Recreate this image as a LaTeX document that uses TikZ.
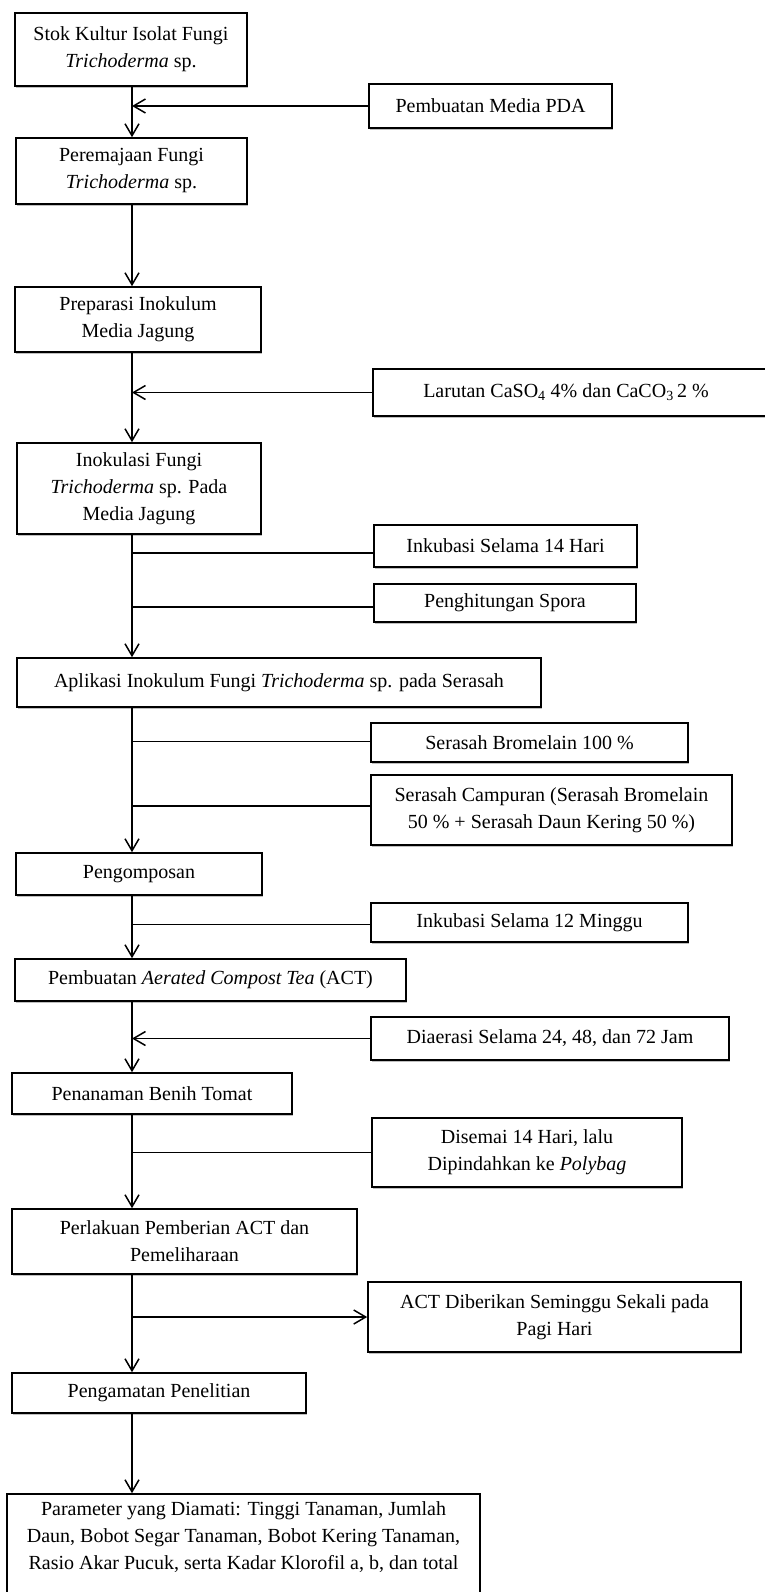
\documentclass[tikz,border=0pt]{standalone}
\usepackage{fontspec}
\setmainfont{Liberation Serif}
\usetikzlibrary{arrows.meta,shadows}
\begin{document}
\begin{tikzpicture}[x=1pt,y=-1pt,
  box/.style={draw=black, line width=1.6pt, fill=white, inner sep=0pt, align=center,
    font=\fontsize{20}{27}\selectfont,
    drop shadow={shadow xshift=1.2pt, shadow yshift=-2.2pt, opacity=0.25, fill=black}},
  flow/.style={line width=1.5pt, -{Straight Barb[length=12pt,width=14pt]}},
  feed/.style={line width=1.5pt},
]
\useasboundingbox (0,0) rectangle (765,1592);
\fill[white] (0,0) rectangle (765,1592);
\coordinate (spine) at (132,0);

\node[box, minimum width=232pt, minimum height=73pt] (b1) at (131,49.5) {Stok Kultur Isolat Fungi\\\textit{Trichoderma} sp.};
\node[box, minimum width=243pt, minimum height=44pt] (pda) at (490.5,106) {Pembuatan Media PDA};
\node[box, minimum width=231pt, minimum height=66pt] (b2) at (131.5,171) {Peremajaan Fungi\\\textit{Trichoderma} sp.};
\node[box, minimum width=246pt, minimum height=65pt] (b3) at (138,319.5) {Preparasi Inokulum\\Media Jagung};
\node[box, minimum width=420pt, minimum height=47pt] (lar) at (583,392.5) {Larutan CaSO\textsubscript{4} 4\% dan CaCO\textsubscript{3}\,2 \%\hspace{34pt}};
\node[box, minimum width=244pt, minimum height=91pt] (b4) at (139,488.5) {Inokulasi Fungi\\\textit{Trichoderma} sp. Pada\\Media Jagung};
\node[box, minimum width=263pt, minimum height=42pt] (ink14) at (505.5,546) {Inkubasi Selama 14 Hari};
\node[box, minimum width=262pt, minimum height=38pt] (spora) at (505,603) {Penghitungan Spora};
\node[box, minimum width=524pt, minimum height=49pt] (b5) at (279,682.5) {Aplikasi Inokulum Fungi \textit{Trichoderma} sp. pada Serasah};
\node[box, minimum width=317pt, minimum height=39pt] (ser100) at (529.5,742.5) {Serasah Bromelain 100 \%};
\node[box, minimum width=361pt, minimum height=70pt] (campur) at (551.5,810) {Serasah Campuran (Serasah Bromelain\\50 \% + Serasah Daun Kering 50 \%)};
\node[box, minimum width=246pt, minimum height=42pt] (b6) at (139,874) {Pengomposan};
\node[box, minimum width=317pt, minimum height=39pt] (ink12) at (529.5,922.5) {Inkubasi Selama 12 Minggu};
\node[box, minimum width=391pt, minimum height=42pt] (b7) at (210.5,980) {Pembuatan \textit{Aerated Compost Tea} (ACT)};
\node[box, minimum width=358pt, minimum height=43pt] (diaer) at (550,1038.5) {Diaerasi Selama 24, 48, dan 72 Jam};
\node[box, minimum width=280pt, minimum height=41pt] (b8) at (152,1093.5) {Penanaman Benih Tomat};
\node[box, minimum width=310pt, minimum height=69pt] (disemai) at (527,1152.5) {Disemai 14 Hari, lalu\\Dipindahkan ke \textit{Polybag}};
\node[box, minimum width=345pt, minimum height=65pt] (b9) at (184.5,1241.5) {Perlakuan Pemberian ACT dan\\Pemeliharaan};
\node[box, minimum width=373pt, minimum height=70pt] (actd) at (554.5,1317) {ACT Diberikan Seminggu Sekali pada\\Pagi Hari};
\node[box, minimum width=294pt, minimum height=40pt] (b10) at (159,1393) {Pengamatan Penelitian};
\node[box, minimum width=473pt, minimum height=110pt] (b11) at (243.5,1549) {Parameter yang Diamati: Tinggi Tanaman, Jumlah\\Daun, Bobot Segar Tanaman, Bobot Kering Tanaman,\\Rasio Akar Pucuk, serta Kadar Klorofil a, b, dan total\rule[-26pt]{0pt}{0pt}};

% main flow
\draw[flow] (spine |- b1.south) -- (spine |- b2.north);
\draw[flow] (spine |- b2.south) -- (spine |- b3.north);
\draw[flow] (spine |- b3.south) -- (spine |- b4.north);
\draw[flow] (spine |- b4.south) -- (spine |- b5.north);
\draw[flow] (spine |- b5.south) -- (spine |- b6.north);
\draw[flow] (spine |- b6.south) -- (spine |- b7.north);
\draw[flow] (spine |- b7.south) -- (spine |- b8.north);
\draw[flow] (spine |- b8.south) -- (spine |- b9.north);
\draw[flow] (spine |- b9.south) -- (spine |- b10.north);
\draw[flow] (spine |- b10.south) -- (spine |- b11.north);

% side inputs
\draw[flow] (pda.west) -- (pda.west -| spine);
\draw[flow] (lar.west) -- (lar.west -| spine);
\draw[feed] ([yshift=-7pt]ink14.west) -- ([yshift=-7pt]ink14.west -| spine);
\draw[feed] ([yshift=-4pt]spora.west) -- ([yshift=-4pt]spora.west -| spine);
\draw[feed] ([yshift=1pt]ser100.west) -- ([yshift=1pt]ser100.west -| spine);
\draw[feed] ([yshift=4pt]campur.west) -- ([yshift=4pt]campur.west -| spine);
\draw[feed] ([yshift=-2pt]ink12.west) -- ([yshift=-2pt]ink12.west -| spine);
\draw[flow] (diaer.west) -- (diaer.west -| spine);
\draw[feed] (disemai.west) -- (disemai.west -| spine);
\draw[flow] (actd.west -| spine) -- (actd.west);
\end{tikzpicture}
\end{document}
